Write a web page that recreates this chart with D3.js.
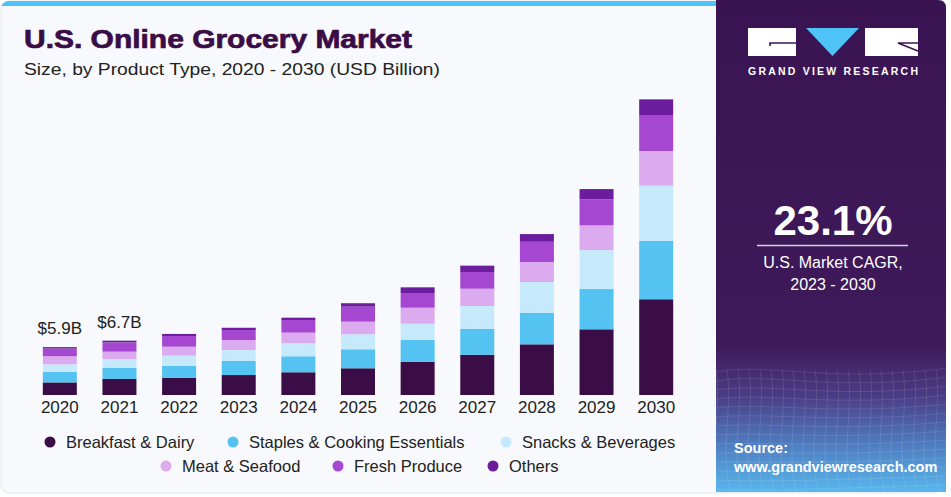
<!DOCTYPE html>
<html>
<head>
<meta charset="utf-8">
<script src="https://cdn.jsdelivr.net/npm/d3@7"></script>
<style>
  html, body { margin: 0; padding: 0; background: #ffffff; }
  svg { display: block; font-family: "Liberation Sans", Arial, sans-serif; }
</style>
</head>
<body>
<svg id="chart" width="951" height="497"></svg>
<script>
// ---------- DATA ----------
const years = ["2020","2021","2022","2023","2024","2025","2026","2027","2028","2029","2030"];
const seriesNames = ["Breakfast & Dairy","Staples & Cooking Essentials","Snacks & Beverages","Meat & Seafood","Fresh Produce","Others"];
const breakfastDairy = [1.55,1.98,2.13,2.46,2.80,3.29,4.10,4.96,6.24,8.09,11.79];
const staplesCooking = [1.31,1.39,1.48,1.76,1.97,2.34,2.67,3.17,3.89,4.96,7.18];
const snacksBeverages = [0.92,1.05,1.23,1.32,1.60,1.85,2.01,2.83,3.78,4.80,6.81];
const meatSeafood = [0.99,0.92,1.11,1.23,1.31,1.55,1.97,2.13,2.46,3.04,4.27];
const freshProduce = [0.95,1.14,1.32,1.23,1.56,1.85,1.81,2.06,2.50,3.20,4.35];
const others = [0.18,0.21,0.25,0.28,0.28,0.42,0.70,0.78,0.95,1.27,2.01];
const valueLabels = ["$5.9B","$6.7B"];   // shown above the first two bars
const seriesColors = ["#3b0d46","#55c3f1","#c6eafc","#dcaaee","#a647d2","#6c1d9e"];

const titleText = "U.S. Online Grocery Market";
const subtitleText = "Size, by Product Type, 2020 - 2030 (USD Billion)";
const cagrValue = "23.1%";
const cagrLines = ["U.S. Market CAGR,", "2023 - 2030"];
const brandText = "GRAND VIEW RESEARCH";
const sourceLines = ["Source:", "www.grandviewresearch.com"];

// ---------- SETUP ----------
const svg = d3.select("#chart");
const defs = svg.append("defs");

// left panel
svg.append("rect").attr("x", 1).attr("y", 1).attr("width", 940).attr("height", 492)
  .attr("rx", 8).attr("fill", "#f7f9fc").attr("stroke", "#e2e6ec");
// top blue strip
defs.append("clipPath").attr("id", "clipTop").append("rect")
  .attr("x", 1).attr("y", 1).attr("width", 940).attr("height", 492).attr("rx", 8);
svg.append("rect").attr("clip-path", "url(#clipTop)")
  .attr("x", 0).attr("y", 0).attr("width", 720).attr("height", 6).attr("fill", "#4fc3f7");

// right panel
const grad = defs.append("linearGradient").attr("id", "panelGrad")
  .attr("x1", 0).attr("y1", 0).attr("x2", 0).attr("y2", 1);
grad.append("stop").attr("offset", "0").attr("stop-color", "#3a1452");
grad.append("stop").attr("offset", "0.70").attr("stop-color", "#3f1a5a");
grad.append("stop").attr("offset", "0.80").attr("stop-color", "#4a3c84");
grad.append("stop").attr("offset", "0.90").attr("stop-color", "#4f7cc0");
grad.append("stop").attr("offset", "1").attr("stop-color", "#58b9ee");
defs.append("clipPath").attr("id", "clipPanel").append("path")
  .attr("d", "M716,0 H938 Q946,0 946,8 V492 H716 Z");
const panel = svg.append("g").attr("clip-path", "url(#clipPanel)");
panel.append("rect").attr("x", 716).attr("y", 0).attr("width", 232).attr("height", 494)
  .attr("fill", "url(#panelGrad)");
// decorative mesh
const mesh = panel.append("g").attr("stroke", "#ffffff").attr("stroke-opacity", 0.13)
  .attr("fill", "none").attr("stroke-width", 0.8);
for (let i = 0; i < 14; i++) {
  const y0 = 372 + i * 9;
  mesh.append("path").attr("d",
    `M716,${y0} C770,${y0 - 10 + i} 830,${y0 + 12 - i} 948,${y0 - 4}`);
}
for (let i = 0; i < 22; i++) {
  const x0 = 716 + i * 11;
  mesh.append("path").attr("d",
    `M${x0},370 C${x0 + 6},410 ${x0 - 8},450 ${x0 + 4},494`);
}

// logo
const logo = svg.append("g");
logo.append("rect").attr("x", 748).attr("y", 28).attr("width", 48).attr("height", 28).attr("fill", "#ffffff");
logo.append("path").attr("d", "M770,46 V43 H796").attr("stroke", "#3a1452").attr("stroke-width", 1.6).attr("fill", "none");
logo.append("path").attr("d", "M806,28 H859 L832.5,56 Z").attr("fill", "#4fc3f7");
logo.append("rect").attr("x", 865).attr("y", 28).attr("width", 53).attr("height", 28).attr("fill", "#ffffff");
logo.append("path").attr("d", "M918,43 H898 L918,51").attr("stroke", "#3a1452").attr("stroke-width", 1.6).attr("fill", "none");
logo.append("text").attr("x", 833).attr("y", 75).attr("text-anchor", "middle")
  .attr("font-size", 10.5).attr("font-weight", "bold").attr("fill", "#ffffff")
  .attr("textLength", 170).attr("lengthAdjust", "spacing").text(brandText);

// CAGR
svg.append("text").attr("x", 833).attr("y", 235).attr("text-anchor", "middle")
  .attr("font-size", 42).attr("font-weight", "bold").attr("fill", "#ffffff").text(cagrValue);
svg.append("line").attr("x1", 757).attr("x2", 908).attr("y1", 245.5).attr("y2", 245.5)
  .attr("stroke", "#d8d0e0").attr("stroke-width", 1.5);
svg.selectAll(".cagr").data(cagrLines).join("text").attr("class", "cagr")
  .attr("x", 833).attr("y", (d, i) => 268 + i * 22).attr("text-anchor", "middle")
  .attr("font-size", 16).attr("fill", "#ffffff").text(d => d);

// source
svg.selectAll(".src").data(sourceLines).join("text").attr("class", "src")
  .attr("x", 734).attr("y", (d, i) => 453 + i * 19)
  .attr("font-size", 14.5).attr("font-weight", "bold").attr("fill", "#ffffff").text(d => d);

// titles
svg.append("text").attr("x", 24).attr("y", 48).attr("font-size", 25).attr("font-weight", "bold")
  .attr("fill", "#3b0d46").attr("stroke", "#3b0d46").attr("stroke-width", 0.7)
  .attr("textLength", 388).attr("lengthAdjust", "spacingAndGlyphs").text(titleText);
svg.append("text").attr("x", 24).attr("y", 75).attr("font-size", 17).attr("fill", "#222222")
  .attr("textLength", 416).attr("lengthAdjust", "spacingAndGlyphs").text(subtitleText);

// ---------- CHART ----------
const seriesArrays = [breakfastDairy, staplesCooking, snacksBeverages, meatSeafood, freshProduce, others];
const table = years.map((y, i) => {
  const row = { year: y };
  seriesNames.forEach((s, k) => row[s] = seriesArrays[k][i]);
  return row;
});
const stack = d3.stack().keys(seriesNames);
const stacked = stack(table);

const x = d3.scaleBand().domain(years).range([30, 686]).paddingInner(0.43).paddingOuter(0.215);
const y = d3.scaleLinear().domain([0, 40]).range([395, 70.2]);
const color = d3.scaleOrdinal().domain(seriesNames).range(seriesColors);

const gBars = svg.append("g");
gBars.selectAll("g").data(stacked).join("g").attr("fill", d => color(d.key))
  .selectAll("rect").data(d => d).join("rect")
  .attr("x", d => x(d.data.year))
  .attr("width", x.bandwidth())
  .attr("y", d => y(d[1]))
  .attr("height", d => y(d[0]) - y(d[1]));

// x axis labels
const xAxis = d3.axisBottom(x).tickSize(0).tickPadding(6);
const gx = svg.append("g").attr("transform", "translate(0,395)").call(xAxis);
gx.select(".domain").remove();
gx.selectAll("text").attr("font-size", 17).attr("fill", "#222222")
  .attr("font-family", "'Liberation Sans', Arial, sans-serif");

// value labels
const totals = table.map(r => d3.sum(seriesNames, s => r[s]));
svg.selectAll(".vlab").data(valueLabels).join("text").attr("class", "vlab")
  .attr("x", (d, i) => x(years[i]) + x.bandwidth() / 2)
  .attr("y", (d, i) => y(totals[i]) - 13)
  .attr("text-anchor", "middle").attr("font-size", 17).attr("fill", "#222222").text(d => d);

// legend
const legendRows = [
  [{ k: 0, cx: 50 }, { k: 1, cx: 233 }, { k: 2, cx: 506 }],
  [{ k: 3, cx: 166 }, { k: 4, cx: 338 }, { k: 5, cx: 493 }]
];
const legendY = [442, 466];
legendRows.forEach((row, r) => {
  const g = svg.append("g");
  const items = g.selectAll("g").data(row).join("g")
    .attr("transform", d => `translate(${d.cx},${legendY[r]})`);
  items.append("circle").attr("r", 5.5).attr("fill", d => seriesColors[d.k]);
  items.append("text").attr("x", 16).attr("y", 5.5).attr("font-size", 16.5)
    .attr("fill", "#222222").text(d => seriesNames[d.k]);
});
</script>
</body>
</html>
